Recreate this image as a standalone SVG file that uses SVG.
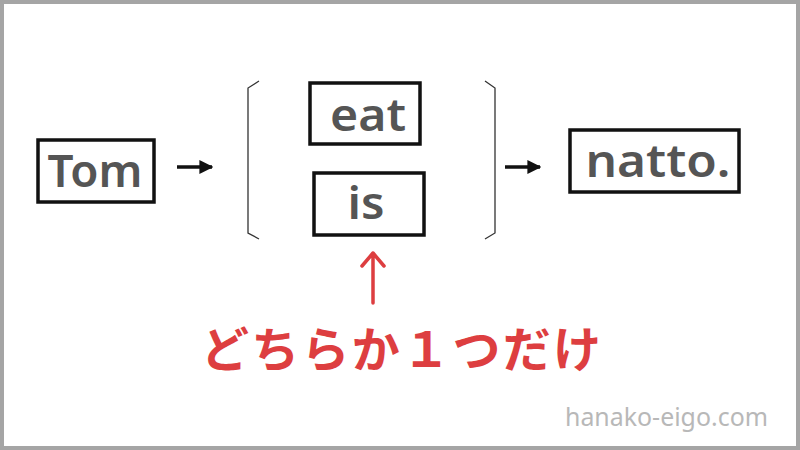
<svg xmlns="http://www.w3.org/2000/svg" width="800" height="450" viewBox="0 0 800 450">
<style>
.box{fill:#fff;stroke:#111;stroke-width:3.5}
.word{font-family:"Noto Sans","DejaVu Sans",sans-serif;font-weight:600;font-size:45px;fill:#555;text-anchor:middle}
.brk{fill:none;stroke:#333;stroke-width:1.3}
.arr{stroke:#111;stroke-width:3.5;fill:none}
.red{font-family:"Noto Sans CJK JP",sans-serif;font-weight:700;font-size:48px;fill:#dd3e40}
</style>
<defs>
<marker id="ah" viewBox="0 0 10 10" refX="9" refY="5" markerWidth="4" markerHeight="4" orient="auto" markerUnits="strokeWidth">
<path d="M0,0 L10,5 L0,10 Z" fill="#111"/>
</marker>
</defs>
<rect x="2" y="2" width="796" height="446" fill="#fff" stroke="#a5a5a5" stroke-width="4"/>
<g id="connectors">
<line class="arr" x1="177" y1="167" x2="212" y2="167" marker-end="url(#ah)"/>
<line class="arr" x1="505" y1="167" x2="540" y2="167" marker-end="url(#ah)"/>
<path d="M373,303 L373,253 M362,266 L373,253 L384,266" fill="none" stroke="#dd3e40" stroke-width="3.5" stroke-linecap="round" stroke-linejoin="round"/>
</g>
<g id="brackets">
<path class="brk" d="M259,81 L248,88 L248,233 L259,239"/>
<path class="brk" d="M485,81 L495,88 L495,233 L485,239"/>
</g>
<g id="tom">
<rect class="box" x="38" y="140" width="116" height="62"/>
<text class="word" x="95" y="187" textLength="95" lengthAdjust="spacingAndGlyphs">Tom</text>
</g>
<g id="eat">
<rect class="box" x="310" y="83" width="110" height="61"/>
<text class="word" x="368" y="131" textLength="76" lengthAdjust="spacingAndGlyphs">eat</text>
</g>
<g id="is">
<rect class="box" x="314" y="173" width="110" height="62"/>
<text class="word" x="366" y="219" textLength="37" lengthAdjust="spacingAndGlyphs">is</text>
</g>
<g id="natto">
<rect class="box" x="570" y="130" width="169" height="62"/>
<text class="word" x="658" y="177" textLength="145" lengthAdjust="spacingAndGlyphs">natto.</text>
</g>
<g id="note">
<text class="red" x="201" y="367" textLength="400" lengthAdjust="spacing">どちらか１つだけ</text>
</g>
<text x="565" y="426" font-family="Noto Sans, sans-serif" font-size="25" fill="#b8b8b8" textLength="203" lengthAdjust="spacingAndGlyphs">hanako-eigo.com</text>
</svg>
